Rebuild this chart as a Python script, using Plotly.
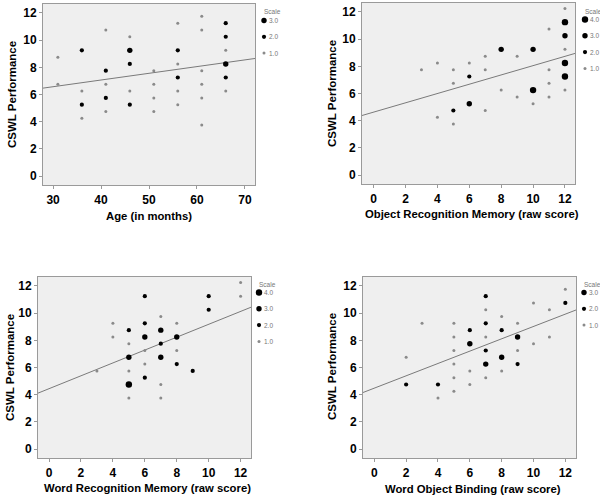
import plotly.graph_objects as go

# ---------------- data ----------------
age_x = [31, 31, 36, 36, 36, 36, 41, 41, 41, 41, 41, 46, 46, 46, 46, 46,
         51, 51, 51, 51, 56, 56, 56, 56, 56, 56, 61, 61, 61, 61, 61, 61,
         66, 66, 66, 66, 66, 66]
age_y = [8.75, 6.75, 9.25, 6.25, 5.25, 4.25, 10.75, 7.75, 6.75, 5.75, 4.75,
         10.25, 9.25, 8.25, 6.25, 5.25, 7.75, 6.75, 5.75, 4.75,
         11.25, 9.25, 8.25, 7.25, 6.25, 5.25, 11.75, 10.75, 7.75, 6.75, 5.75, 3.75,
         11.25, 10.25, 9.25, 8.25, 7.25, 6.25]
age_n = [1, 1, 2, 1, 2, 1, 1, 2, 1, 2, 1, 1, 3, 2, 1, 2, 1, 1, 1, 1,
         1, 2, 1, 2, 1, 1, 1, 1, 1, 1, 1, 1, 2, 2, 1, 3, 2, 1]

orm_x = [3, 4, 4, 5, 5, 5, 5, 6, 6, 6, 7, 7, 7, 8, 8, 9, 9, 10, 10, 10,
         11, 11, 11, 11, 12, 12, 12, 12, 12, 12, 12]
orm_y = [7.75, 8.25, 4.25, 7.75, 6.75, 4.75, 3.75, 8.25, 7.25, 5.25,
         8.75, 7.75, 4.75, 9.25, 6.25, 8.75, 5.75, 9.25, 6.25, 5.25,
         10.75, 7.75, 6.75, 5.75, 12.25, 11.25, 10.25, 9.25, 8.25, 7.25, 6.25]
orm_n = [1, 1, 1, 1, 1, 2, 1, 1, 2, 3, 1, 1, 1, 3, 1, 1, 1, 3, 4, 1,
         1, 1, 1, 1, 1, 4, 3, 1, 4, 4, 1]

wrm_x = [3, 4, 4, 5, 5, 5, 5, 5, 5, 6, 6, 6, 6, 6, 6, 7, 7, 7, 7, 7, 7,
         8, 8, 8, 8, 9, 10, 10, 12, 12]
wrm_y = [5.75, 9.25, 8.25, 8.75, 7.75, 6.75, 5.75, 4.75, 3.75,
         11.25, 9.25, 8.25, 7.25, 6.25, 5.25,
         9.75, 8.75, 7.75, 6.75, 4.75, 3.75,
         9.25, 8.25, 7.25, 6.25, 5.75, 11.25, 10.25, 12.25, 11.25]
wrm_n = [1, 1, 1, 2, 1, 3, 1, 4, 1, 2, 2, 3, 1, 1, 2, 1, 3, 2, 3, 1, 1,
         1, 3, 1, 2, 2, 2, 2, 1, 1]

wob_x = [2, 2, 3, 4, 4, 5, 5, 5, 5, 5, 5, 6, 6, 6, 6,
         7, 7, 7, 7, 7, 7, 7, 8, 8, 8, 8, 9, 9, 9, 9,
         10, 10, 11, 11, 12, 12]
wob_y = [6.75, 4.75, 9.25, 4.75, 3.75, 9.25, 8.25, 7.25, 6.25, 5.25, 4.25,
         8.75, 7.75, 5.75, 4.75,
         11.25, 10.25, 9.25, 8.25, 7.25, 6.25, 5.25,
         9.75, 8.75, 6.75, 5.75, 9.25, 8.25, 7.25, 6.25,
         10.75, 7.75, 10.25, 8.25, 11.75, 10.75]
wob_n = [1, 2, 1, 2, 1, 1, 1, 1, 1, 1, 1, 2, 3, 1, 1,
         2, 1, 2, 1, 2, 3, 1, 1, 2, 3, 1, 1, 3, 1, 2,
         1, 1, 1, 1, 1, 2]

# fit lines (intercept, slope)
fit_age = (5.09, 0.0494)
fit_orm = (4.63, 0.342)
fit_wrm = (4.44, 0.474)
fit_wob = (4.48, 0.454)

x_titles = ["Age (in months)", "Object Recognition Memory (raw score)",
            "Word Recognition Memory (raw score)", "Word Object Binding (raw score)"]
y_title = "CSWL Performance"
scale_levels = [[3, 2, 1], [4, 3, 2, 1], [4, 3, 2, 1], [3, 2, 1]]

# ---------------- style / layout ----------------
size_map = {1: 3.0, 2: 4.2, 3: 5.4, 4: 6.4}
color_map = {1: "#8a8a8a", 2: "#000000", 3: "#000000", 4: "#000000"}
W, H = 600, 498

panels = [
    dict(x=age_x, y=age_y, n=age_n, fit=fit_age, xr=[27.9, 72.1], dx=[43, 255], dy=[4, 185],
         xt=[30, 40, 50, 60, 70], ytl=(12, 95), xtl=(149, 216), leg=(264, 12)),
    dict(x=orm_x, y=orm_y, n=orm_n, fit=fit_orm, xr=[-0.73, 12.63], dx=[362, 575], dy=[3, 184],
         xt=[0, 2, 4, 6, 8, 10, 12], ytl=(332, 94), xtl=(472, 214), leg=(585, 11)),
    dict(x=wrm_x, y=wrm_y, n=wrm_n, fit=fit_wrm, xr=[-0.69, 12.65], dx=[38, 251], dy=[277, 458],
         xt=[0, 2, 4, 6, 8, 10, 12], ytl=(10, 368), xtl=(147, 488), leg=(259, 284)),
    dict(x=wob_x, y=wob_y, n=wob_n, fit=fit_wob, xr=[-0.71, 12.67], dx=[363, 576], dy=[277, 458],
         xt=[0, 2, 4, 6, 8, 10, 12], ytl=(332, 367), xtl=(473, 489), leg=(584, 284)),
]

fig = go.Figure()
annotations = []
shapes = []
font_main = "Liberation Sans, Arial, sans-serif"

for i, p in enumerate(panels):
    k = "" if i == 0 else str(i + 1)
    xa, ya = "x" + k, "y" + k
    # fit line
    b0, b1 = p["fit"]
    fig.add_trace(go.Scatter(x=p["xr"], y=[b0 + b1 * p["xr"][0], b0 + b1 * p["xr"][1]],
                             mode="lines", line=dict(color="#7a7a7a", width=1),
                             xaxis=xa, yaxis=ya, showlegend=False, hoverinfo="skip"))
    # points grouped by count
    for lvl in sorted(set(p["n"])):
        xs = [xv for xv, nv in zip(p["x"], p["n"]) if nv == lvl]
        ys = [yv for yv, nv in zip(p["y"], p["n"]) if nv == lvl]
        fig.add_trace(go.Scatter(x=xs, y=ys, mode="markers",
                                 marker=dict(size=size_map[lvl], color=color_map[lvl], line=dict(width=0)),
                                 xaxis=xa, yaxis=ya, showlegend=False))
    axis_common = dict(showgrid=False, zeroline=False, showline=True, linecolor="#9a9a9a",
                       linewidth=1, mirror=True, ticks="outside", ticklen=3, tickcolor="#9a9a9a",
                       tickfont=dict(family=font_main, size=12, color="#000000", weight="bold"))
    fig.update_layout(**{
        "xaxis" + k: dict(domain=[p["dx"][0] / W, p["dx"][1] / W], range=p["xr"],
                          tickvals=p["xt"], anchor=ya, ticklabelstandoff=1, **axis_common),
        "yaxis" + k: dict(domain=[1 - p["dy"][1] / H, 1 - p["dy"][0] / H], range=[-0.66, 12.66],
                          tickvals=[0, 2, 4, 6, 8, 10, 12], anchor=xa, **axis_common),
    })
    # axis titles
    annotations.append(dict(text=y_title, x=p["ytl"][0] / W, y=1 - p["ytl"][1] / H,
                            xref="paper", yref="paper", showarrow=False, textangle=-90,
                            xanchor="center", yanchor="middle",
                            font=dict(family=font_main, size=11.5, color="#000", weight="bold")))
    annotations.append(dict(text=x_titles[i], x=p["xtl"][0] / W, y=1 - p["xtl"][1] / H,
                            xref="paper", yref="paper", showarrow=False,
                            xanchor="center", yanchor="middle",
                            font=dict(family=font_main, size=11.3, color="#000", weight="bold")))
    # scale legend
    lx, ly = p["leg"]
    annotations.append(dict(text="Scale", x=(lx - 2) / W, y=1 - ly / H, xref="paper", yref="paper",
                            showarrow=False, xanchor="left", yanchor="middle",
                            font=dict(family=font_main, size=6.5, color="#777")))
    for j, lvl in enumerate(scale_levels[i]):
        yy = ly + 8.5 + j * 16.3
        r = size_map[lvl] / 2
        shapes.append(dict(type="circle", xref="paper", yref="paper",
                           xsizemode="pixel", ysizemode="pixel",
                           xanchor=lx / W, yanchor=1 - yy / H,
                           x0=-r, x1=r, y0=-r, y1=r,
                           fillcolor=color_map[lvl], line=dict(width=0)))
        annotations.append(dict(text=f"{lvl:.1f}", x=(lx + 3.2) / W, y=1 - yy / H,
                                xref="paper", yref="paper", showarrow=False,
                                xanchor="left", yanchor="middle",
                                font=dict(family=font_main, size=6.5, color="#777")))

fig.update_layout(width=W, height=H, margin=dict(l=0, r=0, t=0, b=0),
                  paper_bgcolor="white", plot_bgcolor="#efefef",
                  annotations=annotations, shapes=shapes, showlegend=False)

fig.write_html("out.html", config={"displayModeBar": False},
               post_script="document.body.style.margin='0';document.body.style.padding='0';")
